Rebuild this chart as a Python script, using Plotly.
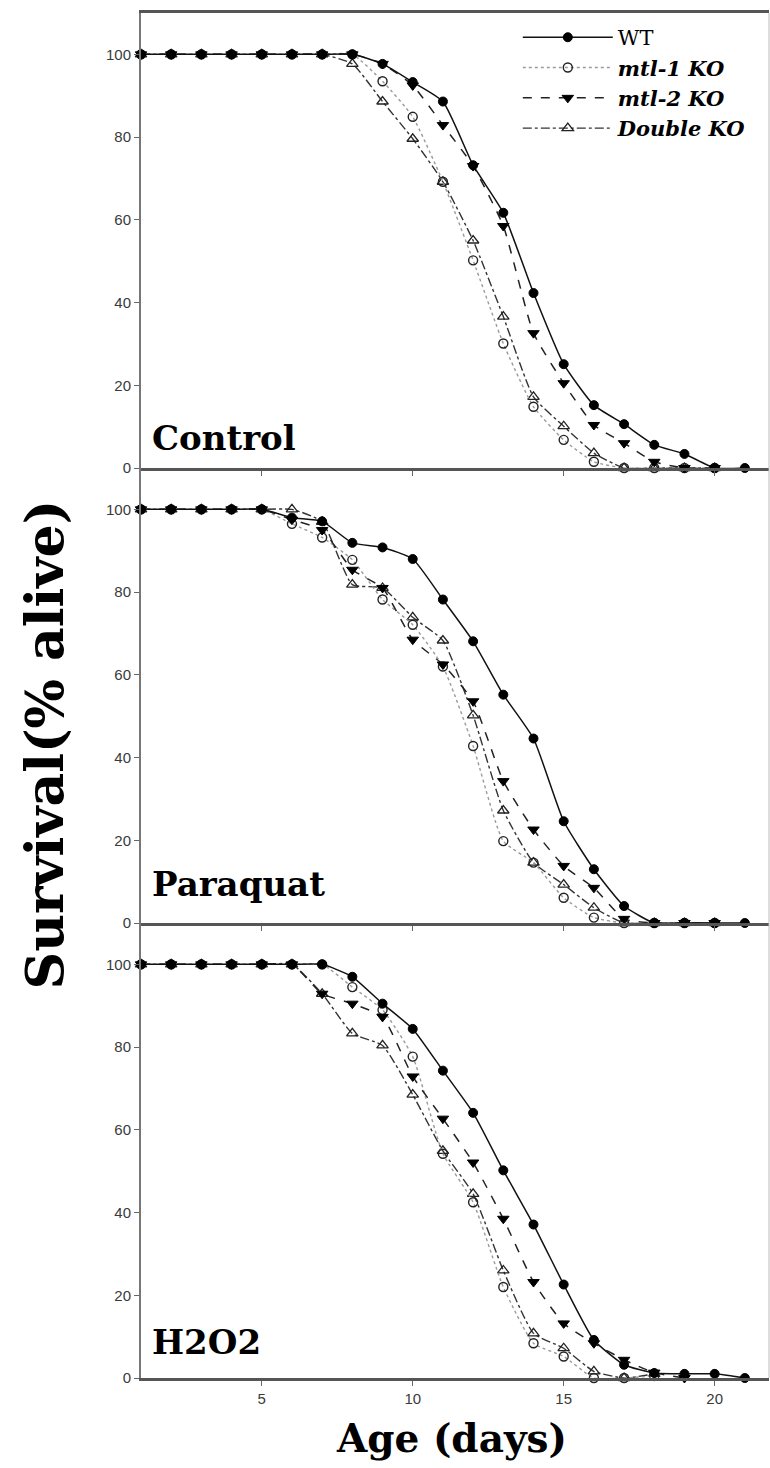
import plotly.graph_objects as go
from plotly.subplots import make_subplots

# ---------------- data ----------------
days_wt = list(range(1, 22))      # WT measured to day 21
days_ko = list(range(1, 21))      # knockouts measured to day 20
days_h_m1 = list(range(1, 19))
days_h_m2 = list(range(1, 20))
days_h_dk = list(range(1, 19))

panel_labels = ["Control", "Paraquat", "H2O2"]
series_names = ["WT", "<b><i>mtl-1 KO</i></b>", "<b><i>mtl-2 KO</i></b>", "<b><i>Double KO</i></b>"]

# Control
ctrl_wt = [100, 100, 100, 100, 100, 100, 100, 100, 97.7, 93.3, 88.6, 73.2, 61.7, 42.3, 25.1, 15.2, 10.6, 5.6, 3.4, 0, 0]
ctrl_m1 = [100, 100, 100, 100, 100, 100, 100, 100, 93.5, 84.9, 69.2, 50.2, 30.1, 14.8, 6.8, 1.5, 0, 0, 0, 0]
ctrl_m2 = [100, 100, 100, 100, 100, 100, 100, 100, 97.7, 92.5, 82.9, 73.0, 58.5, 32.6, 20.5, 10.4, 6.0, 1.5, 0, 0]
ctrl_dk = [100, 100, 100, 100, 100, 100, 100, 97.7, 88.6, 79.6, 69.2, 55.0, 36.6, 17.2, 10.1, 3.6, 0, 0, 0, 0]

# Paraquat
para_wt = [100, 100, 100, 100, 100, 98.0, 97.1, 91.9, 90.8, 88.0, 78.2, 68.1, 55.2, 44.6, 24.6, 13.0, 4.1, 0, 0, 0, 0]
para_m1 = [100, 100, 100, 100, 100, 96.5, 93.2, 87.8, 78.2, 72.1, 62.0, 42.8, 19.8, 14.6, 6.1, 1.3, 0, 0, 0, 0]
para_m2 = [100, 100, 100, 100, 100, 97.5, 95.0, 85.4, 81.0, 68.5, 62.5, 53.6, 34.3, 22.6, 13.8, 8.5, 1.0, 0, 0, 0]
para_dk = [100, 100, 100, 100, 100, 100, 97.0, 81.8, 81.0, 73.9, 68.3, 50.2, 27.2, 14.6, 9.3, 3.7, 0, 0, 0, 0]

# H2O2
h2o2_wt = [100, 100, 100, 100, 100, 100, 100, 97.0, 90.5, 84.4, 74.3, 64.1, 50.2, 37.1, 22.6, 9.2, 3.2, 1.2, 1.0, 1.0, 0]
h2o2_m1 = [100, 100, 100, 100, 100, 100, 100, 94.5, 89.0, 77.7, 54.2, 42.5, 22.0, 8.4, 5.2, 0, 0, 0.5]
h2o2_m2 = [100, 100, 100, 100, 100, 100, 92.9, 90.5, 87.3, 72.9, 62.7, 52.1, 38.5, 23.2, 13.2, 8.4, 4.4, 1.3, 0]
h2o2_dk = [100, 100, 100, 100, 100, 100, 92.9, 83.3, 80.4, 68.5, 54.9, 44.5, 26.0, 10.8, 7.2, 1.6, 0, 1.0]

x_ticks = [5, 10, 15, 20]
y_ticks = [0, 20, 40, 60, 80, 100]

panels = [
    [(days_wt, ctrl_wt), (days_ko, ctrl_m1), (days_ko, ctrl_m2), (days_ko, ctrl_dk)],
    [(days_wt, para_wt), (days_ko, para_m1), (days_ko, para_m2), (days_ko, para_dk)],
    [(days_wt, h2o2_wt), (days_h_m1, h2o2_m1), (days_h_m2, h2o2_m2), (days_h_dk, h2o2_dk)],
]

# ---------------- styles ----------------
styles = [
    dict(line=dict(color="#111111", width=1.5, dash="solid"),
         marker=dict(symbol="circle", size=9, color="#000000", line=dict(color="#000000", width=1))),
    dict(line=dict(color="#9a9a9a", width=1.4, dash="dot"),
         marker=dict(symbol="circle-open", size=9, color="#222222", line=dict(width=1.4))),
    dict(line=dict(color="#222222", width=1.5, dash="dash"),
         marker=dict(symbol="triangle-down", size=10, color="#000000", line=dict(color="#000000", width=1))),
    dict(line=dict(color="#333333", width=1.4, dash="dashdot"),
         marker=dict(symbol="triangle-up-open", size=10, color="#222222", line=dict(width=1.3))),
]

fig = make_subplots(rows=3, cols=1, shared_xaxes=True, vertical_spacing=0)

draw_order = [3, 1, 2, 0]
for r, panel in enumerate(panels, start=1):
    for i in draw_order:
        xs, ys = panel[i]
        fig.add_trace(go.Scatter(
            x=xs, y=ys, mode="lines+markers", name=series_names[i],
            line=dict(shape="spline", smoothing=0.5, **styles[i]["line"]),
            marker=styles[i]["marker"], cliponaxis=False,
            showlegend=(r == 1), legendrank=i,
        ), row=r, col=1)

tick_font = dict(family="Liberation Sans, Arial", size=15, color="#3a3a3a")
for r in range(1, 4):
    fig.update_xaxes(range=[1, 21.8], tickvals=x_ticks, ticks="outside", ticklen=5,
                     tickcolor="#666666", tickwidth=1.2, showline=True, linecolor="#555555",
                     linewidth=2.5, showgrid=False, zeroline=False, tickfont=tick_font,
                     mirror=(r == 1), row=r, col=1)
    fig.update_yaxes(range=[0, 110], tickvals=y_ticks, ticks="outside", ticklen=5,
                     tickcolor="#666666", tickwidth=1.2, showline=True, linecolor="#777777",
                     linewidth=2, showgrid=False, zeroline=False, tickfont=tick_font,
                     row=r, col=1)

label_y = [0.018, 0.038, 0.030]
for r, (lab, ly) in enumerate(zip(panel_labels, label_y), start=1):
    sfx = "" if r == 1 else str(r)
    fig.add_annotation(text="<b>%s</b>" % lab, xref="x%s domain" % sfx, yref="y%s domain" % sfx,
                       x=0.015, y=ly, xanchor="left", yanchor="bottom", showarrow=False,
                       font=dict(family="DejaVu Serif", size=34, color="#000000"))

fig.add_annotation(text="<b>Survival(% alive)</b>", xref="paper", yref="paper",
                   x=-0.205, y=0.464, textangle=-90, showarrow=False,
                   font=dict(family="DejaVu Serif", size=52, color="#000000"))
fig.add_annotation(text="<b>Age (days)</b>", xref="paper", yref="paper",
                   x=0.495, y=-0.062, showarrow=False,
                   font=dict(family="DejaVu Serif", size=39, color="#000000"))

fig.add_shape(type="line", xref="paper", yref="paper", x0=1, x1=1, y0=0, y1=1,
              line=dict(color="#bbbbbb", width=1))

fig.update_layout(
    width=770, height=1468,
    margin=dict(l=141, r=1, t=13, b=90),
    paper_bgcolor="white", plot_bgcolor="white",
    legend=dict(x=0.6, y=0.997, xanchor="left", yanchor="top", itemwidth=90,
                font=dict(family="DejaVu Serif", size=21, color="#000000"),
                bgcolor="rgba(0,0,0,0)", tracegroupgap=0),
    showlegend=True,
)

fig.write_html("out.html")
